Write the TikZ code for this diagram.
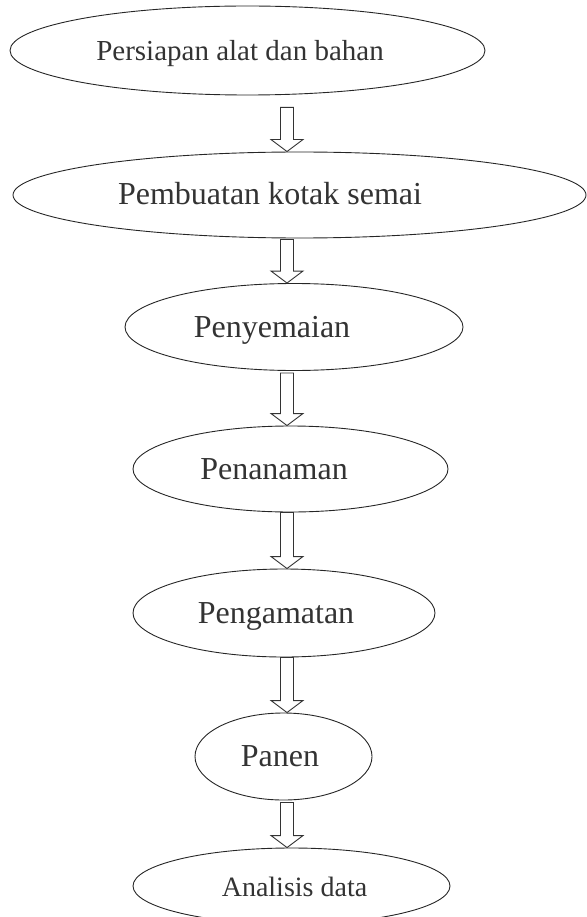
\documentclass[tikz,border=0pt]{standalone}
\usepackage{fontspec}
\setmainfont{Liberation Serif}
\usetikzlibrary{shapes.geometric,calc}

\tikzset{
  stage/.style={draw=black!85, line width=0.9pt, ellipse, inner sep=0pt},
  stagetext/.style={font=\fontsize{32}{36}\selectfont, text=black!80, anchor=base},
  downarrow/.style={draw=black!80, line width=0.9pt, fill=white},
}

% hollow block arrow: from node, to node, x position, gap below the first node
\newcommand{\hollowarrow}[4]{%
  \draw[downarrow] let \p1=(#1.south), \p2=(#2.north) in
    (#3-6.5,\y1-#4) -- (#3+6.5,\y1-#4) -- (#3+6.5,\y2+12) -- (#3+16,\y2+12)
    -- (#3,\y2) -- (#3-16,\y2+12) -- (#3-6.5,\y2+12) -- cycle;}

\begin{document}
\begin{tikzpicture}[x=1pt,y=1pt]

\useasboundingbox (0,0) rectangle (586,-917);

% Stages
\node [stage, minimum width=475, minimum height=89] (e1) at (247.5,-50.5) {};
\node [stage, minimum width=573, minimum height=86] (e2) at (299.5,-195) {};
\node [stage, minimum width=338, minimum height=87] (e3) at (294,-327) {};
\node [stage, minimum width=315, minimum height=86] (e4) at (290.5,-469) {};
\node [stage, minimum width=302, minimum height=88] (e5) at (284,-613) {};
\node [stage, minimum width=177, minimum height=87] (e6) at (283.5,-756.5) {};
\node [stage, minimum width=317, minimum height=76] (e7) at (291.5,-886) {};

% Stage labels
\node [stagetext, font=\fontsize{29}{33}\selectfont] (t1) at (240,-61) {Persiapan alat dan bahan};
\node [stagetext] (t2) at (270,-205) {Pembuatan kotak semai};
\node [stagetext] (t3) at (272,-337) {Penyemaian};
\node [stagetext] (t4) at (274,-479) {Penanaman};
\node [stagetext] (t5) at (276,-623) {Pengamatan};
\node [stagetext] (t6) at (280,-766) {Panen};
\node [stagetext, font=\fontsize{28}{32}\selectfont] (t7) at (294.5,-896) {Analisis data};

% Arrows
\hollowarrow{e1}{e2}{287}{12}
\hollowarrow{e2}{e3}{287}{1}
\hollowarrow{e3}{e4}{287}{2}
\hollowarrow{e4}{e5}{287}{0}
\hollowarrow{e5}{e6}{287}{0}
\hollowarrow{e6}{e7}{287}{2}

\end{tikzpicture}
\end{document}
